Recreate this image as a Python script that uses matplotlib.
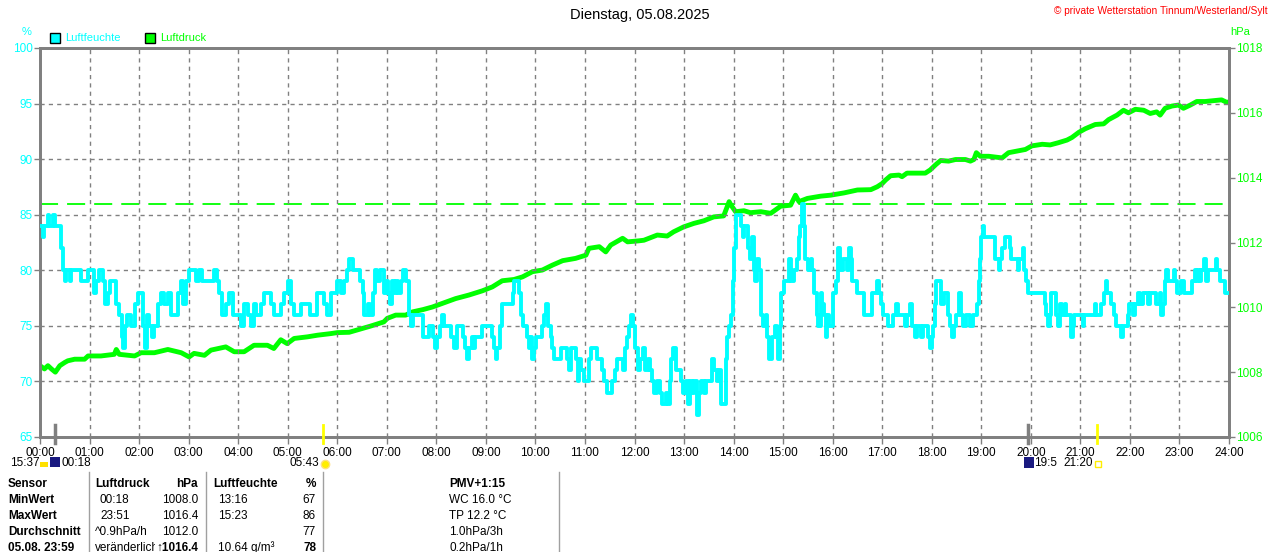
import matplotlib
matplotlib.use("Agg")
import matplotlib.pyplot as plt
from matplotlib.patches import Rectangle
from matplotlib.lines import Line2D

plt.rcParams['font.family'] = ['Liberation Sans', 'DejaVu Sans']

# Luftfeuchte (%) - Zeit in Stunden
hum_t = [0.00, 0.06, 0.09, 0.16, 0.19, 0.26, 0.30, 0.42, 0.43, 0.46, 0.50, 0.53, 0.60, 0.63, 0.77, 0.83,
         0.97, 1.09, 1.13, 1.20, 1.27, 1.32, 1.37, 1.42, 1.54, 1.60, 1.65, 1.68, 1.72, 1.76, 1.84, 1.91,
         1.97, 2.07, 2.11, 2.16, 2.21, 2.26, 2.31, 2.38, 2.44, 2.51, 2.58, 2.64, 2.78, 2.85, 2.88, 2.95,
         3.01, 3.15, 3.21, 3.28, 3.52, 3.57, 3.62, 3.68, 3.75, 3.82, 3.89, 4.05, 4.12, 4.19, 4.26, 4.31,
         4.36, 4.46, 4.52, 4.66, 4.72, 4.86, 4.93, 5.01, 5.06, 5.13, 5.26, 5.46, 5.60, 5.73, 5.80, 5.87,
         5.93, 6.00, 6.07, 6.13, 6.20, 6.24, 6.32, 6.45, 6.51, 6.54, 6.63, 6.67, 6.72, 6.76, 6.81, 6.86,
         6.94, 6.99, 7.03, 7.06, 7.10, 7.14, 7.18, 7.23, 7.28, 7.33, 7.39, 7.45, 7.48, 7.52, 7.73, 7.85,
         7.93, 7.97, 8.02, 8.07, 8.12, 8.15, 8.29, 8.36, 8.41, 8.53, 8.58, 8.61, 8.66, 8.71, 8.76, 8.79,
         8.93, 9.12, 9.16, 9.20, 9.23, 9.28, 9.32, 9.54, 9.57, 9.67, 9.70, 9.74, 9.84, 9.87, 9.90, 9.94,
         9.97, 10.02, 10.14, 10.18, 10.21, 10.26, 10.31, 10.34, 10.38, 10.51, 10.63, 10.67, 10.71, 10.81,
         10.85, 10.88, 10.93, 10.98, 11.08, 11.12, 11.25, 11.35, 11.38, 11.45, 11.55, 11.61, 11.65, 11.76,
         11.80, 11.85, 11.89, 11.93, 11.97, 12.02, 12.07, 12.12, 12.18, 12.22, 12.27, 12.31, 12.36, 12.40,
         12.46, 12.51, 12.56, 12.63, 12.67, 12.71, 12.74, 12.78, 12.83, 12.93, 12.98, 13.03, 13.07, 13.12,
         13.16, 13.21, 13.27, 13.30, 13.35, 13.40, 13.45, 13.57, 13.60, 13.66, 13.70, 13.75, 13.84, 13.87,
         13.91, 13.94, 13.98, 14.01, 14.05, 14.14, 14.18, 14.21, 14.29, 14.33, 14.38, 14.41, 14.44, 14.48,
         14.51, 14.55, 14.60, 14.65, 14.68, 14.71, 14.78, 14.83, 14.87, 14.90, 14.94, 14.96, 15.02, 15.12,
         15.15, 15.21, 15.29, 15.32, 15.35, 15.38, 15.42, 15.45, 15.50, 15.56, 15.59, 15.62, 15.68, 15.70,
         15.76, 15.79, 15.83, 15.86, 15.89, 15.93, 16.01, 16.06, 16.10, 16.15, 16.20, 16.28, 16.33, 16.36,
         16.40, 16.50, 16.63, 16.80, 16.89, 16.94, 16.98, 17.02, 17.12, 17.22, 17.28, 17.32, 17.46, 17.51,
         17.56, 17.61, 17.66, 17.71, 17.78, 17.82, 17.93, 17.97, 18.01, 18.03, 18.06, 18.09, 18.19, 18.24,
         18.32, 18.37, 18.40, 18.44, 18.49, 18.56, 18.59, 18.63, 18.69, 18.77, 18.83, 18.92, 18.95, 18.98,
         19.00, 19.03, 19.06, 19.27, 19.35, 19.38, 19.42, 19.47, 19.57, 19.60, 19.74, 19.77, 19.84, 19.87,
         19.91, 19.94, 20.28, 20.31, 20.34, 20.38, 20.41, 20.51, 20.55, 20.58, 20.63, 20.68, 20.71, 20.81,
         20.85, 20.88, 21.05, 21.08, 21.29, 21.32, 21.42, 21.47, 21.51, 21.54, 21.62, 21.67, 21.72, 21.82,
         21.87, 21.96, 21.99, 22.06, 22.11, 22.16, 22.21, 22.26, 22.36, 22.40, 22.52, 22.60, 22.63, 22.67,
         22.70, 22.73, 22.77, 22.88, 22.92, 22.95, 23.04, 23.10, 23.26, 23.31, 23.34, 23.38, 23.41, 23.44,
         23.49, 23.53, 23.58, 23.73, 23.76, 23.81, 23.91, 24.00]
hum_v = [84, 83, 84, 85, 84, 85, 84, 84, 82, 80, 79, 80, 79, 80, 80, 79,
         80, 78, 79, 80, 79, 77, 78, 79, 77, 76, 74, 73, 75, 76, 75, 77,
         78, 75, 73, 76, 75, 74, 75, 77, 78, 77, 78, 76, 78, 79, 77, 79,
         80, 79, 80, 79, 80, 79, 78, 76, 77, 78, 76, 75, 77, 76, 75, 77,
         76, 77, 78, 77, 76, 77, 78, 79, 77, 76, 77, 76, 78, 77, 76, 78,
         78, 79, 78, 79, 80, 81, 80, 79, 78, 76, 77, 76, 78, 80, 79, 80,
         78, 79, 78, 77, 79, 78, 79, 78, 79, 80, 79, 76, 75, 76, 74, 75,
         74, 73, 74, 75, 76, 75, 74, 73, 75, 74, 73, 72, 73, 74, 73, 74,
         75, 74, 73, 72, 73, 75, 77, 78, 79, 78, 76, 75, 74, 73, 74, 72,
         73, 74, 75, 76, 77, 75, 74, 73, 72, 73, 72, 71, 73, 72,
         70, 72, 71, 70, 72, 73, 72, 71, 70, 69, 70, 71, 72, 71,
         73, 74, 75, 76, 75, 73, 71, 72, 73, 71, 72, 71, 70, 69,
         70, 69, 68, 69, 68, 70, 72, 73, 71, 70, 69, 70, 68, 70,
         69, 70, 67, 69, 70, 69, 70, 72, 71, 70, 71, 68, 72, 74,
         75, 76, 79, 82, 85, 84, 83, 84, 82, 81, 83, 80, 79, 81,
         80, 76, 75, 76, 74, 72, 74, 75, 74, 72, 75, 78, 79, 81,
         79, 80, 81, 83, 84, 86, 84, 81, 80, 81, 80, 78, 76, 75,
         78, 77, 76, 74, 76, 75, 78, 79, 82, 80, 81, 80, 82, 81,
         79, 78, 76, 78, 79, 78, 77, 76, 75, 76, 77, 76, 75, 76,
         77, 75, 74, 75, 74, 75, 74, 73, 74, 75, 77, 79, 77, 78,
         76, 75, 74, 75, 76, 78, 76, 75, 76, 75, 76, 77, 79, 81,
         83, 84, 83, 81, 80, 81, 82, 83, 82, 81, 80, 81, 82, 80,
         79, 78, 77, 76, 75, 76, 78, 76, 75, 77, 76, 77, 76, 74,
         75, 76, 75, 76, 77, 76, 77, 78, 79, 78, 77, 76, 75, 74,
         75, 76, 77, 76, 77, 78, 77, 78, 77, 78, 77, 78, 76, 77,
         79, 80, 79, 80, 79, 78, 79, 78, 79, 80, 79, 80, 79, 80,
         81, 79, 80, 81, 80, 79, 78, 78]

# Luftdruck (hPa)
prs_t = [0.00, 0.09, 0.16, 0.23, 0.31, 0.40, 0.50, 0.56, 0.70, 0.90, 0.97, 1.23, 1.50, 1.54, 1.60, 1.91,
         2.04, 2.31, 2.58, 2.85, 3.01, 3.11, 3.32, 3.45, 3.75, 3.92, 4.12, 4.32, 4.59, 4.72, 4.86, 4.99,
         5.13, 5.40, 5.60, 5.87, 6.00, 6.24, 6.40, 6.67, 6.94, 7.01, 7.18, 7.38, 7.52, 7.73, 7.92, 8.12,
         8.39, 8.66, 8.93, 9.13, 9.33, 9.57, 9.74, 9.94, 10.14, 10.34, 10.55, 10.81, 11.02, 11.08, 11.29,
         11.42, 11.52, 11.76, 11.86, 12.08, 12.19, 12.46, 12.66, 12.79, 12.99, 13.20, 13.40, 13.60, 13.80,
         13.91, 13.95, 14.04, 14.21, 14.34, 14.55, 14.75, 14.95, 15.15, 15.25, 15.32, 15.49, 15.76, 15.96,
         16.23, 16.50, 16.77, 16.90, 17.00, 17.07, 17.17, 17.34, 17.40, 17.50, 17.87, 17.97, 18.08, 18.18,
         18.34, 18.48, 18.68, 18.78, 18.85, 18.90, 18.98, 19.15, 19.42, 19.55, 19.72, 19.89, 20.02, 20.23,
         20.39, 20.56, 20.73, 20.83, 20.97, 21.10, 21.30, 21.47, 21.57, 21.74, 21.87, 21.97, 22.11, 22.28,
         22.41, 22.54, 22.61, 22.71, 22.85, 22.98, 23.08, 23.22, 23.35, 23.52, 23.85, 23.96, 24.00]
prs_v = [1008.2, 1008.1, 1008.2, 1008.1, 1008.0, 1008.2, 1008.3, 1008.35, 1008.4, 1008.4, 1008.5, 1008.5,
         1008.55, 1008.7, 1008.55, 1008.5, 1008.6, 1008.6, 1008.7, 1008.6, 1008.47, 1008.58, 1008.52,
         1008.68, 1008.78, 1008.63, 1008.63, 1008.83, 1008.83, 1008.73, 1009.0, 1008.88, 1009.04, 1009.09,
         1009.14, 1009.19, 1009.22, 1009.23, 1009.30, 1009.42, 1009.55, 1009.66, 1009.76, 1009.76, 1009.86,
         1009.93, 1010.01, 1010.12, 1010.27, 1010.38, 1010.51, 1010.63, 1010.82, 1010.86, 1010.94, 1011.10,
         1011.15, 1011.30, 1011.44, 1011.51, 1011.61, 1011.82, 1011.87, 1011.71, 1011.92, 1012.13, 1012.02,
         1012.05, 1012.07, 1012.23, 1012.20, 1012.33, 1012.48, 1012.59, 1012.67, 1012.79, 1012.82, 1013.26,
         1013.15, 1012.95, 1012.98, 1012.92, 1012.95, 1012.90, 1013.12, 1013.15, 1013.46, 1013.26, 1013.36,
         1013.43, 1013.46, 1013.53, 1013.62, 1013.63, 1013.72, 1013.82, 1013.93, 1014.06, 1014.08, 1014.03,
         1014.14, 1014.14, 1014.24, 1014.40, 1014.53, 1014.51, 1014.56, 1014.56, 1014.51, 1014.56, 1014.77,
         1014.66, 1014.66, 1014.61, 1014.77, 1014.82, 1014.87, 1014.98, 1015.03, 1015.01, 1015.08, 1015.16,
         1015.24, 1015.40, 1015.51, 1015.64, 1015.66, 1015.79, 1015.93, 1016.08, 1016.00, 1016.11, 1016.08,
         1015.98, 1016.03, 1015.93, 1016.14, 1016.21, 1016.24, 1016.14, 1016.24, 1016.35, 1016.35, 1016.40,
         1016.32, 1016.34]

ref_druck = 1013.2

hours = list(range(25))
hour_labels = ["%02d:00" % h for h in hours]
hum_ticks = [65, 70, 75, 80, 85, 90, 95, 100]
prs_ticks = [1006, 1008, 1010, 1012, 1014, 1016, 1018]

# Sonne / Mond (Stunden)
sunrise, sunset = 5 + 43 / 60, 21 + 20 / 60
moonset, moonrise = 18 / 60, 19 + 57 / 60

W, H = 1280, 552
GRAY = '#808080'
CYAN = '#00ffff'
GREEN = '#00ff00'


def fx(x):
    return x / W


def fy(y):
    return 1 - y / H


fig = plt.figure(figsize=(W / 100, H / 100), dpi=100)
ax = fig.add_axes([fx(40), fy(437), fx(1229) - fx(40), fy(48) - fy(437)])
ax2 = ax.twinx()

ax.set_xlim(0, 24)
ax.set_ylim(65, 100)
ax2.set_ylim(1006, 1018)

ax.grid(True, color=GRAY, linestyle=(0, (3, 3)), linewidth=1)
ax.set_xticks(hours)
ax.set_xticklabels(hour_labels, fontsize=8.5)
ax.set_yticks(hum_ticks)
ax.set_yticklabels([str(v) for v in hum_ticks], fontsize=8.5, color=CYAN)
ax2.set_yticks(prs_ticks)
ax2.set_yticklabels([str(v) for v in prs_ticks], fontsize=8.5, color=GREEN)

ax.tick_params(axis='x', direction='out', length=5, width=1, color=GRAY, pad=2)
ax.tick_params(axis='y', direction='out', length=4, width=1, color=GRAY, pad=1)
ax2.tick_params(axis='y', direction='out', length=4, width=1, color=GRAY, pad=1)

for a in (ax, ax2):
    for s in a.spines.values():
        s.set_color(GRAY)
        s.set_linewidth(2)

ax2.axhline(ref_druck, color=GREEN, lw=1.3, dashes=(10, 5))
ax2.plot(prs_t, prs_v, color=GREEN, lw=3.5, zorder=3)
ax.plot(hum_t, hum_v, color=CYAN, lw=2.8, drawstyle='steps-post', zorder=4)
ax.set_zorder(ax2.get_zorder() + 1)
ax.patch.set_visible(False)

# Sonnen- und Mondmarken an der Zeitachse
for t, c, w in [(sunrise, 'yellow', 2), (sunset, 'yellow', 2), (moonset, GRAY, 2.5), (moonrise, GRAY, 2.5)]:
    ax.add_line(Line2D([t, t], [-0.015, 0.03], transform=ax.get_xaxis_transform(),
                       color=c, lw=w, clip_on=False, zorder=6))

# Titel und Beschriftungen
fig.text(0.5, fy(15), "Dienstag, 05.08.2025", ha='center', va='center', fontsize=10.5)
fig.text(fx(1268), fy(11), "\u00a9 private Wetterstation Tinnum/Westerland/Sylt", ha='right', va='center',
         fontsize=7.3, color='red')
fig.text(fx(27), fy(32), "%", ha='center', va='center', fontsize=8, color=CYAN)
fig.text(fx(1240), fy(32), "hPa", ha='center', va='center', fontsize=8, color=GREEN)

fig.add_artist(Rectangle((fx(50), fy(43)), fx(10), 10 / H, transform=fig.transFigure,
                         facecolor=CYAN, edgecolor='black', lw=1))
fig.text(fx(65), fy(38), "Luftfeuchte", va='center', fontsize=8, color=CYAN)
fig.add_artist(Rectangle((fx(145), fy(43)), fx(10), 10 / H, transform=fig.transFigure,
                         facecolor=GREEN, edgecolor='black', lw=1))
fig.text(fx(160), fy(38), "Luftdruck", va='center', fontsize=8, color=GREEN)

# Zeiten unter der Achse
fig.text(fx(10), fy(463), "15:37", va='center', fontsize=8.5)
fig.add_artist(Rectangle((fx(40), fy(467)), fx(8), 5 / H, transform=fig.transFigure, facecolor='#ffe000', lw=0))
fig.add_artist(Rectangle((fx(50), fy(467)), fx(10), 10 / H, transform=fig.transFigure, facecolor='#1a1a80', lw=0))
fig.text(fx(61), fy(463), "00:18", va='center', fontsize=8.5)
fig.text(fx(290), fy(463), "05:43", va='center', fontsize=8.5)
fig.add_artist(Line2D([fx(325)], [fy(464)], transform=fig.transFigure, marker='o', markersize=6,
                      markerfacecolor='#ffee00', markeredgecolor='#ffe080', linestyle='none'))
fig.add_artist(Rectangle((fx(1024), fy(468)), fx(10), 11 / H, transform=fig.transFigure, facecolor='#1a1a80', lw=0))
fig.text(fx(1034), fy(463), "19:5", va='center', fontsize=8.5)
fig.text(fx(1063), fy(463), "21:20", va='center', fontsize=8.5)
fig.add_artist(Rectangle((fx(1095), fy(467)), fx(6), 6 / H, transform=fig.transFigure,
                         facecolor='none', edgecolor='#ffee00', lw=1))

# Tabelle
for xs in [89, 206, 323, 559]:
    fig.add_artist(Line2D([fx(xs), fx(xs)], [fy(472), 0], transform=fig.transFigure, color='#a0a0a0', lw=1))

rows_y = [484, 500, 516, 532, 548]
col_sensor = ["Sensor", "MinWert", "MaxWert", "Durchschnitt", "05.08. 23:59"]
col_druck_info = ["Luftdruck", "00:18", "23:51", "^0.9hPa/h", "ver\u00e4nderlich"]
col_druck_val = ["hPa", "1008.0", "1016.4", "1012.0", "\u21911016.4"]
col_feuchte_info = ["Luftfeuchte", "13:16", "15:23", "", "10.64 g/m\u00b3"]
col_feuchte_val = ["%", "67", "86", "77", "78"]
col_pmv = ["PMV+1:15", "WC 16.0 \u00b0C", "TP 12.2 \u00b0C", "1.0hPa/3h", "0.2hPa/1h"]

for i, y in enumerate(rows_y):
    head = i == 0
    fig.text(fx(8), fy(y), col_sensor[i], va='center', fontsize=8.5, fontweight='bold')
    fig.text(fx(95 if head or i >= 3 else 100), fy(y), col_druck_info[i], va='center', fontsize=8.5,
             fontweight='bold' if head else 'normal')
    t = fig.text(fx(198), fy(y), col_druck_val[i], va='center', ha='right', fontsize=8.5,
                 fontweight='bold' if head or i == 4 else 'normal')
    if i == 4:
        t.set_bbox(dict(facecolor='white', edgecolor='none', pad=0.5))
    fig.text(fx(213 if head else 218), fy(y), col_feuchte_info[i], va='center', fontsize=8.5,
             fontweight='bold' if head else 'normal')
    fig.text(fx(316), fy(y), col_feuchte_val[i], va='center', ha='right', fontsize=8.5,
             fontweight='bold' if head or i == 4 else 'normal')
    fig.text(fx(449), fy(y), col_pmv[i], va='center', fontsize=8.5,
             fontweight='bold' if head else 'normal')

fig.savefig("out.png", dpi=100)
